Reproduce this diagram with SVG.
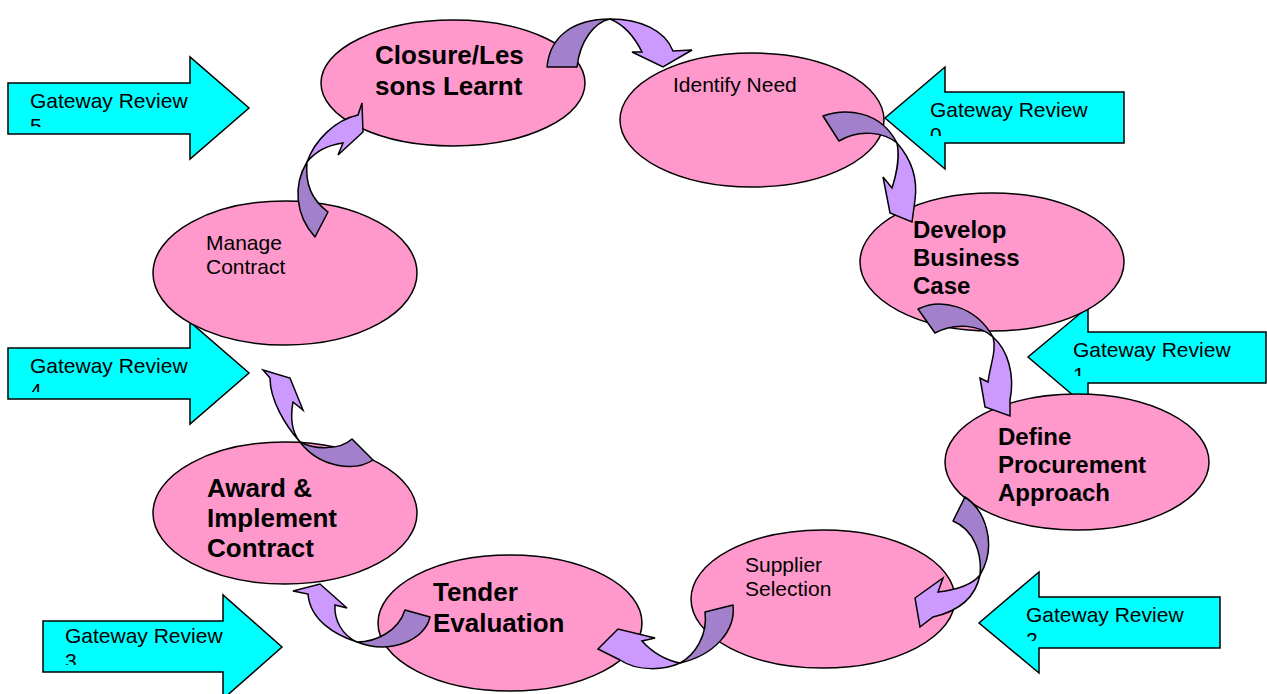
<svg xmlns="http://www.w3.org/2000/svg" width="1267" height="694" viewBox="0 0 1267 694">
<defs>
<style>
.gw{fill:#00FFFF;stroke:#000;stroke-width:1.5;stroke-linejoin:miter}
.el{fill:#FF99CC;stroke:#000;stroke-width:1.5}
.dk{fill:#A380CC;stroke:#000;stroke-width:1.5;stroke-linejoin:round}
.lt{fill:#CC99FF;stroke:#000;stroke-width:1.5;stroke-linejoin:miter}
.gt{font-family:"Liberation Sans",Arial,sans-serif;font-size:21px;fill:#000}
.rt{font-family:"Liberation Sans",Arial,sans-serif;font-size:21px;fill:#000}
.bt{font-family:"Liberation Sans",Arial,sans-serif;font-weight:bold;font-size:26px;fill:#000}
.bm{font-family:"Liberation Sans",Arial,sans-serif;font-weight:bold;font-size:24px;fill:#000}
</style>
<clipPath id="c5"><rect x="0" y="83" width="260" height="44"/></clipPath>
<clipPath id="c4"><rect x="0" y="348" width="260" height="44"/></clipPath>
<clipPath id="c3"><rect x="30" y="621" width="260" height="44"/></clipPath>
<clipPath id="c0"><rect x="880" y="92" width="260" height="44"/></clipPath>
<clipPath id="c1"><rect x="1020" y="332" width="247" height="44"/></clipPath>
<clipPath id="c2"><rect x="975" y="597" width="260" height="44"/></clipPath>
</defs>

<g id="gateway5">
<path class="gw" d="M8,83 L190,83 L190,57 L249,108 L190,159 L190,134 L8,134 Z"/>
<g clip-path="url(#c5)"><text class="gt" x="30" y="108">Gateway Review</text><text class="gt" x="30" y="133">5</text></g>
</g>
<g id="gateway4">
<path class="gw" d="M8,348 L190,348 L190,322 L249,373 L190,424 L190,399 L8,399 Z"/>
<g clip-path="url(#c4)"><text class="gt" x="30" y="373">Gateway Review</text><text class="gt" x="30" y="398">4</text></g>
</g>
<g id="gateway3">
<path class="gw" d="M43,621 L223,621 L223,595 L282,647 L223,699 L223,672 L43,672 Z"/>
<g clip-path="url(#c3)"><text class="gt" x="65" y="643">Gateway Review</text><text class="gt" x="65" y="668">3</text></g>
</g>
<g id="gateway0">
<path class="gw" d="M1124,92 L945,92 L945,67 L885,118 L945,169 L945,143 L1124,143 Z"/>
<g clip-path="url(#c0)"><text class="gt" x="930" y="117">Gateway Review</text><text class="gt" x="930" y="142">0</text></g>
</g>
<g id="gateway1">
<path class="gw" d="M1266,332 L1088,332 L1088,307 L1028,357 L1088,408 L1088,383 L1266,383 Z"/>
<g clip-path="url(#c1)"><text class="gt" x="1073" y="357">Gateway Review</text><text class="gt" x="1073" y="382">1</text></g>
</g>
<g id="gateway2">
<path class="gw" d="M1220,597 L1039,597 L1039,572 L979,623 L1039,673 L1039,648 L1220,648 Z"/>
<g clip-path="url(#c2)"><text class="gt" x="1026" y="622">Gateway Review</text><text class="gt" x="1026" y="647">2</text></g>
</g>

<g id="closure">
<ellipse class="el" cx="453" cy="83" rx="132" ry="63"/>
<text class="bt" x="375" y="64">Closure/Les</text>
<text class="bt" x="375" y="95">sons Learnt</text>
</g>
<g id="identify">
<ellipse class="el" cx="752" cy="120" rx="132" ry="67"/>
<text class="rt" x="673" y="92">Identify Need</text>
</g>
<g id="develop">
<ellipse class="el" cx="992" cy="262" rx="132" ry="69"/>
<text class="bm" x="913" y="238">Develop</text>
<text class="bm" x="913" y="266">Business</text>
<text class="bm" x="913" y="294">Case</text>
</g>
<g id="define">
<ellipse class="el" cx="1077" cy="462" rx="132" ry="68"/>
<text class="bm" x="998" y="445">Define</text>
<text class="bm" x="998" y="473">Procurement</text>
<text class="bm" x="998" y="501">Approach</text>
</g>
<g id="supplier">
<ellipse class="el" cx="823" cy="599" rx="132" ry="69"/>
<text class="rt" x="745" y="572">Supplier</text>
<text class="rt" x="745" y="596">Selection</text>
</g>
<g id="tender">
<ellipse class="el" cx="510" cy="623" rx="132" ry="68"/>
<text class="bt" x="433" y="601">Tender</text>
<text class="bt" x="433" y="632">Evaluation</text>
</g>
<g id="award">
<ellipse class="el" cx="285" cy="513" rx="132" ry="71"/>
<text class="bt" x="207" y="497">Award &amp;</text>
<text class="bt" x="207" y="527">Implement</text>
<text class="bt" x="207" y="557">Contract</text>
</g>
<g id="manage">
<ellipse class="el" cx="285" cy="273" rx="132" ry="72"/>
<text class="rt" x="206" y="250">Manage</text>
<text class="rt" x="206" y="274">Contract</text>
</g>

<g id="connectors">
<g id="c-closure-identify">
<path class="dk" d="M547,67 C550,35 575,19 610,19 C595,22 580,40 577,67 Z"/>
<path class="lt" d="M610,19 C640,19 665,30 673,51 L692,50 L663,67 L632,52 L642,52 C635,38 625,25 610,19 Z"/>
</g>
<g id="c-identify-develop">
<path class="dk" d="M823,116 C845,108 880,110 897,143 C885,133 860,128 839,141 Z"/>
<path class="lt" d="M897,143 C912,160 918,178 915,200 L912,222 L890,213 L883,177 L892,188 C897,172 900,158 897,143 Z"/>
</g>
<g id="c-develop-define">
<path class="dk" d="M918,309 C940,298 975,305 993,337 C980,325 955,322 935,333 Z"/>
<path class="lt" d="M993,337 C1008,350 1015,375 1010,400 L1010,416 L985,407 L980,378 L988,382 C990,365 997,350 993,337 Z"/>
</g>
<g id="c-define-supplier">
<path class="dk" d="M965,497 C985,510 998,545 980,575 C982,555 975,530 953,521 Z"/>
<path class="lt" d="M980,575 C975,600 955,612 933,617 L920,627 L915,598 L943,578 L938,592 C955,590 972,585 980,575 Z"/>
</g>
<g id="c-supplier-tender">
<path class="dk" d="M733,605 C736,630 715,655 680,663 C695,655 708,635 705,612 Z"/>
<path class="lt" d="M680,663 C665,670 638,672 620,660 L598,649 L618,629 L655,638 L642,641 C652,652 665,660 680,663 Z"/>
</g>
<g id="c-tender-award">
<path class="dk" d="M430,617 C425,640 390,655 357,642 C375,642 398,632 405,610 Z"/>
<path class="lt" d="M357,642 C335,635 310,620 308,594 L293,591 L320,584 L347,608 L335,605 C334,620 342,635 357,642 Z"/>
</g>
<g id="c-award-manage">
<path class="dk" d="M373,460 C355,472 320,468 300,442 C315,450 340,450 352,439 Z"/>
<path class="lt" d="M300,442 C285,425 270,400 270,378 L263,370 L290,378 L303,410 L293,402 C290,418 292,432 300,442 Z"/>
</g>
<g id="c-manage-closure">
<path class="dk" d="M315,237 C295,215 293,185 307,162 C305,185 312,200 328,212 Z"/>
<path class="lt" d="M307,162 C315,140 335,120 358,115 L362,103 L363,132 L338,155 L343,143 C328,145 315,152 307,162 Z"/>
</g>
</g>
</svg>
